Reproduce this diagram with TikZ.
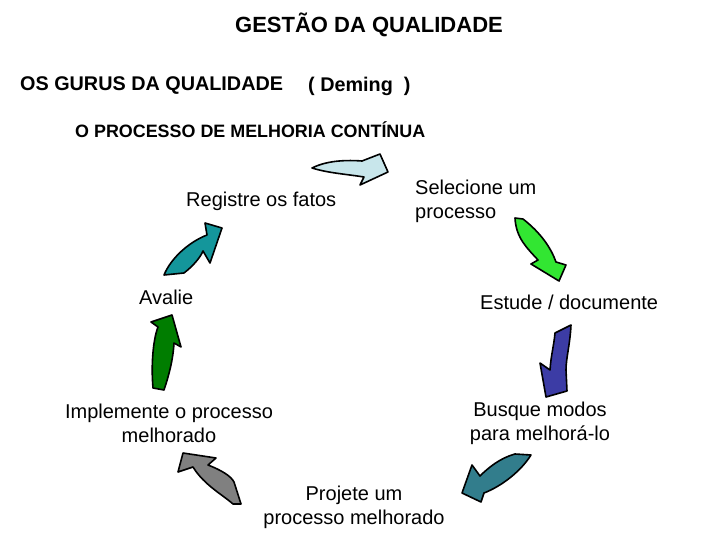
\documentclass[tikz,border=0pt]{standalone}
\usepackage{fontspec}
\setmainfont{Liberation Sans}
\begin{document}
\begin{tikzpicture}[x=1pt,y=-1pt,
  txt/.style={inner sep=0pt,font=\fontsize{20}{24}\selectfont},
  head/.style={inner sep=0pt,font=\fontsize{19.8}{24}\selectfont\bfseries},
  blockarrow/.style={draw=black,line width=1.6pt,line join=round}]
\useasboundingbox (0,0) rectangle (720,540);
\definecolor{ca}{RGB}{200,230,235}
\definecolor{cb}{RGB}{50,230,50}
\definecolor{cc}{RGB}{60,60,165}
\definecolor{cd}{RGB}{50,125,140}
\definecolor{ce}{RGB}{128,128,128}
\definecolor{cf}{RGB}{0,125,0}
\definecolor{cg}{RGB}{20,150,155}

\node[head,font=\fontsize{22}{24}\selectfont\bfseries] (title) at (369,25) {GESTÃO DA QUALIDADE};
\node[head,anchor=west] (gurus) at (20,86) {OS GURUS DA QUALIDADE};
\node[head,anchor=west] (deming) at (308,86) {(~Deming~~)};
\node[head,anchor=west,font=\fontsize{17.9}{24}\selectfont\bfseries] (proc) at (75,130) {O PROCESSO DE MELHORIA CONTÍNUA};

\node[txt,anchor=west] (registre) at (186,201) {Registre os fatos};
\node[txt,anchor=west,align=left] (selecione) at (415,201) {Selecione um\\processo};
\node[txt,anchor=west] (avalie) at (139,297) {Avalie};
\node[txt,anchor=west] (estude) at (480,302) {Estude / documente};
\node[txt,align=center] (implemente) at (169,423) {Implemente o processo\\melhorado};
\node[txt,align=center] (busque) at (540,423) {Busque modos\\para melhorá-lo};
\node[txt,align=center] (projete) at (354,507) {Projete um\\processo melhorado};

% arrows
\filldraw[blockarrow,fill=ca] (312,168) .. controls (328,160) and (348,160) .. (362,161) -- (380,154) -- (388,172) -- (360,185) -- (364,177) .. controls (345,174) and (328,173) .. cycle;
\filldraw[blockarrow,fill=cb] (515,218) -- (523,219) .. controls (541,233) and (551,248) .. (556,262) -- (566,265) -- (559,281) -- (531,264) -- (538,260) .. controls (527,248) and (516,238) .. cycle;
\filldraw[blockarrow,fill=cc] (555,333) -- (571,325) .. controls (570,345) and (566,358) .. (566,370) -- (567,391) -- (546,397) -- (540,363) -- (550,370) .. controls (551,355) and (554,345) .. cycle;
\filldraw[blockarrow,fill=cd] (531,455) -- (515,454) .. controls (500,458) and (488,468) .. (480,476) -- (472,465) -- (462,493) -- (481,502) -- (484,493) .. controls (502,486) and (521,471) .. cycle;
\filldraw[blockarrow,fill=ce] (183,453) -- (216,458) -- (208,465) .. controls (221,470) and (231,476) .. (234,482) -- (241,504) -- (233,504) .. controls (223,495) and (204,485) .. (193,467) -- (178,472) -- cycle;
\filldraw[blockarrow,fill=cf] (172,315) -- (181,347) -- (174,343) .. controls (173,360) and (169,375) .. (164,390) -- (153,388) .. controls (151,365) and (153,340) .. (158,327) -- (151,322) -- cycle;
\filldraw[blockarrow,fill=cg] (164,275) -- (184,273) .. controls (193,266) and (200,258) .. (203,251) -- (210,263) -- (222,228) -- (205,223) -- (207,235) .. controls (189,242) and (171,258) .. cycle;
\end{tikzpicture}
\end{document}
